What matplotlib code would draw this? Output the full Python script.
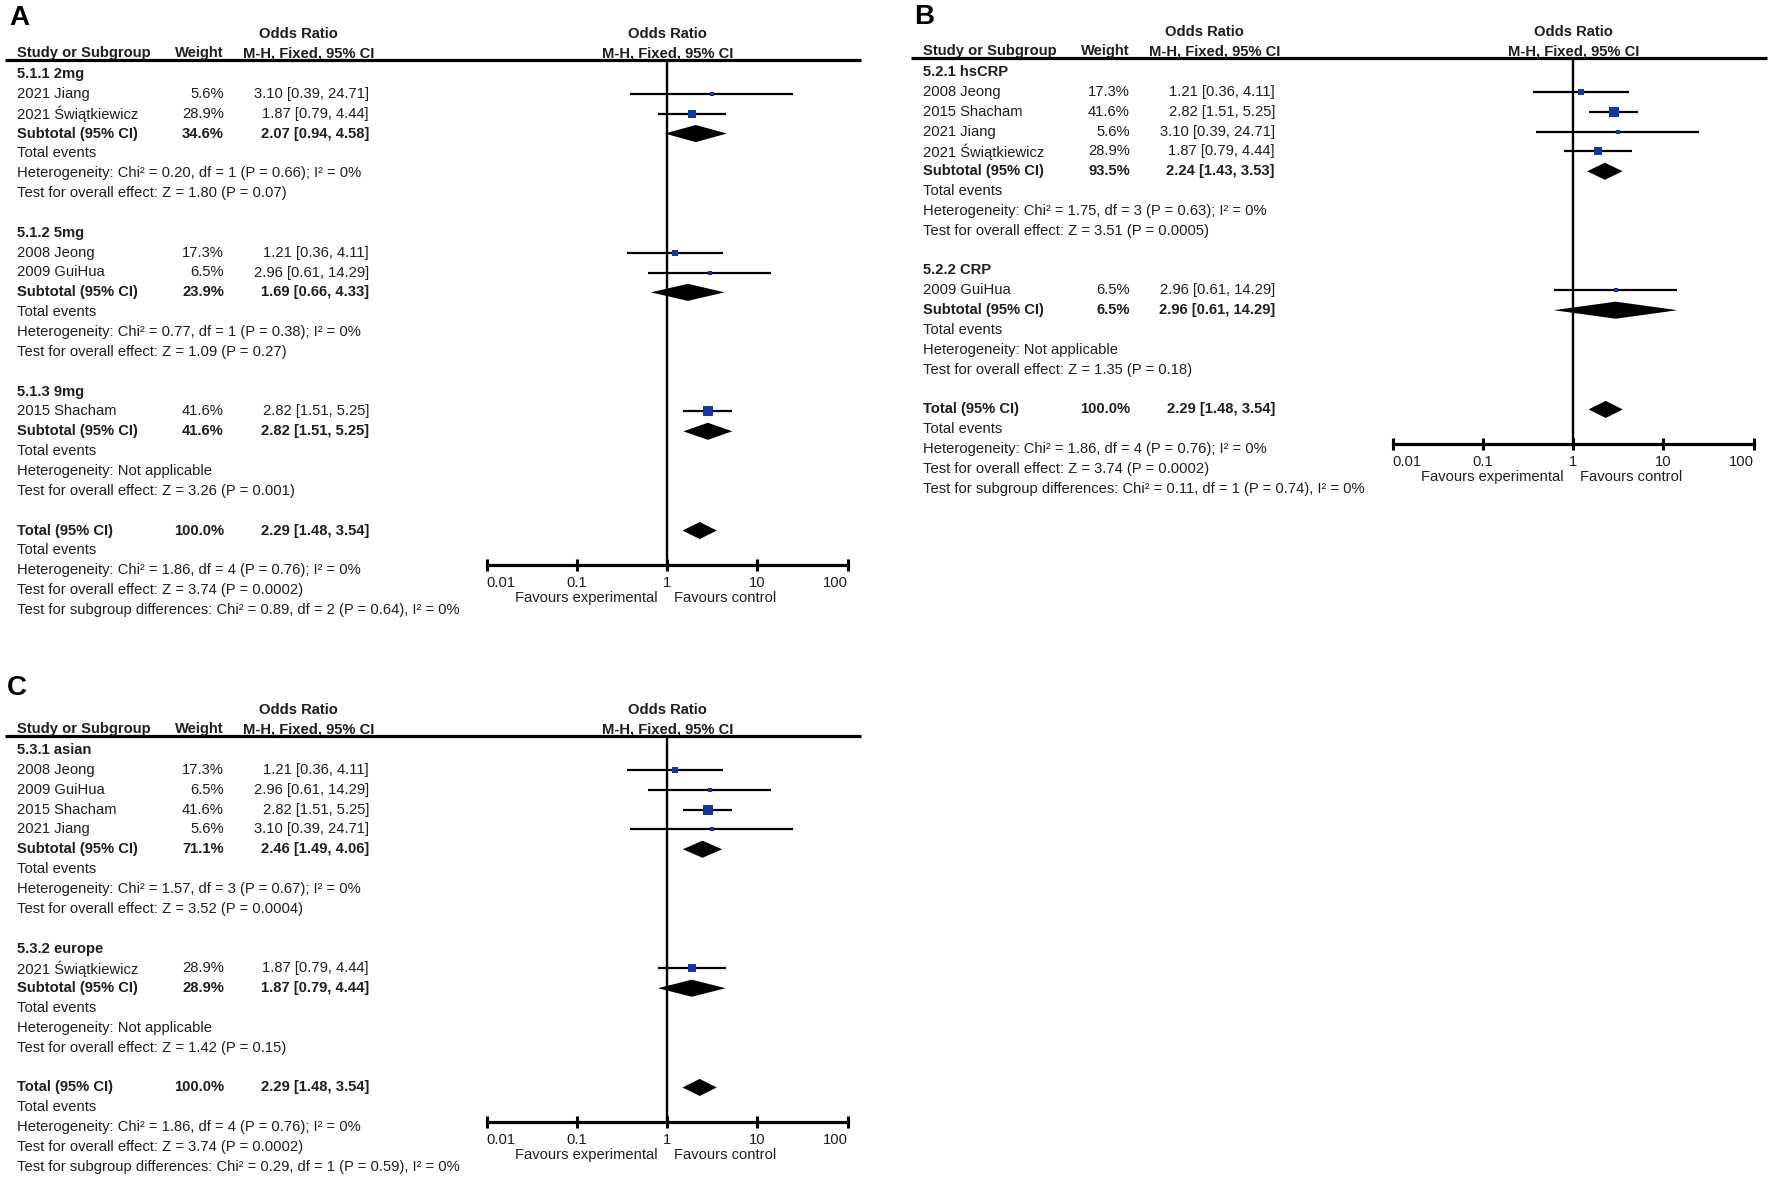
import numpy as np
import matplotlib
matplotlib.use("Agg")
import matplotlib.pyplot as plt
from matplotlib.transforms import Affine2D, blended_transform_factory

plt.rcParams['font.family'] = ['Liberation Sans', 'DejaVu Sans']

# study level data
study_names = ["2008 Jeong", "2009 GuiHua", "2015 Shacham", "2021 Jiang", "2021 Świątkiewicz"]
study_weight = [17.3, 6.5, 41.6, 5.6, 28.9]
study_or = [1.21, 2.96, 2.82, 3.10, 1.87]
study_lo = [0.36, 0.61, 1.51, 0.39, 0.79]
study_hi = [4.11, 14.29, 5.25, 24.71, 4.44]

# panel A: dose
groups_A = ["5.1.1 2mg", "5.1.2 5mg", "5.1.3 9mg"]
members_A = [["2021 Jiang", "2021 Świątkiewicz"], ["2008 Jeong", "2009 GuiHua"], ["2015 Shacham"]]
sub_weight_A = [34.6, 23.9, 41.6]
sub_or_A = [2.07, 1.69, 2.82]
sub_lo_A = [0.94, 0.66, 1.51]
sub_hi_A = [4.58, 4.33, 5.25]
het_A = ["Chi² = 0.20, df = 1 (P = 0.66); I² = 0%", "Chi² = 0.77, df = 1 (P = 0.38); I² = 0%", "Not applicable"]
z_A = ["Z = 1.80 (P = 0.07)", "Z = 1.09 (P = 0.27)", "Z = 3.26 (P = 0.001)"]
diff_A = "Chi² = 0.89, df = 2 (P = 0.64), I² = 0%"

# panel B: CRP type
groups_B = ["5.2.1 hsCRP", "5.2.2 CRP"]
members_B = [["2008 Jeong", "2015 Shacham", "2021 Jiang", "2021 Świątkiewicz"], ["2009 GuiHua"]]
sub_weight_B = [93.5, 6.5]
sub_or_B = [2.24, 2.96]
sub_lo_B = [1.43, 0.61]
sub_hi_B = [3.53, 14.29]
het_B = ["Chi² = 1.75, df = 3 (P = 0.63); I² = 0%", "Not applicable"]
z_B = ["Z = 3.51 (P = 0.0005)", "Z = 1.35 (P = 0.18)"]
diff_B = "Chi² = 0.11, df = 1 (P = 0.74), I² = 0%"

# panel C: region
groups_C = ["5.3.1 asian", "5.3.2 europe"]
members_C = [["2008 Jeong", "2009 GuiHua", "2015 Shacham", "2021 Jiang"], ["2021 Świątkiewicz"]]
sub_weight_C = [71.1, 28.9]
sub_or_C = [2.46, 1.87]
sub_lo_C = [1.49, 0.79]
sub_hi_C = [4.06, 4.44]
het_C = ["Chi² = 1.57, df = 3 (P = 0.67); I² = 0%", "Not applicable"]
z_C = ["Z = 3.52 (P = 0.0004)", "Z = 1.42 (P = 0.15)"]
diff_C = "Chi² = 0.29, df = 1 (P = 0.59), I² = 0%"

# overall
total_weight = 100.0
total_or, total_lo, total_hi = 2.29, 1.48, 3.54
total_het = "Chi² = 1.86, df = 4 (P = 0.76); I² = 0%"
total_z = "Z = 3.74 (P = 0.0002)"

ticks = [0.01, 0.1, 1, 10, 100]
tick_labels = ["0.01", "0.1", "1", "10", "100"]

W, H = 1772, 1177
fig = plt.figure(figsize=(W / 100, H / 100), dpi=100)
TXT = '#1e1e1e'
BLUE = '#1237a0'
FS = 10.6
STEP = 19.85  # pixels per row


def fmt(o, l, h):
    return "%.2f [%.2f, %.2f]" % (o, l, h)


def panel(letter, lx, ly, xoff, y0, groups, members, sw, so, sl, sh, het, zz, diff):
    total_row = sum(len(m) + 6 for m in members)
    top_px = y0 - 14
    bot_px = y0 + (total_row + 1.75) * STEP
    ax = fig.add_axes([(486.7 + xoff) / W, 1 - bot_px / H, 361 / W, (bot_px - top_px) / H])
    ax.set_xscale('log')
    ax.set_xlim(0.01, 100)
    ax.set_ylim(total_row + 1.75, -14 / STEP)
    for s in ['top', 'left', 'right']:
        ax.spines[s].set_visible(False)
    ax.spines['bottom'].set_linewidth(2.3)
    ax.set_xticks(ticks)
    ax.set_xticklabels(tick_labels, fontsize=FS, color=TXT)
    labs = ax.get_xticklabels()
    labs[0].set_ha('left')
    labs[-1].set_ha('right')
    ax.minorticks_off()
    ax.tick_params(axis='x', direction='inout', length=9, width=2.2, pad=3)
    ax.set_yticks([])
    ax.patch.set_alpha(0)
    ax.axvline(1, color='black', lw=1.7)

    # x in figure pixels, y in rows
    tr = blended_transform_factory(Affine2D().scale(1 / W, 1) + fig.transFigure, ax.transData)

    def row(p):
        return (p - y0) / STEP

    def t(x, y, s, bold=False, ha='left', va='center'):
        ax.text(x + xoff, y, s, transform=tr, fontsize=FS, color=TXT, ha=ha, va=va,
                fontweight='bold' if bold else 'normal', clip_on=False)

    fig.text((lx + xoff) / W, 1 - ly / H, letter, fontsize=20, fontweight='bold',
             ha='left', va='center', color='black')

    # header
    t(298, row(y0 - 40), "Odds Ratio", bold=True, ha='center')
    t(17, row(y0 - 16.5), "Study or Subgroup", bold=True, va='baseline')
    t(224, row(y0 - 16.5), "Weight", bold=True, ha='right', va='baseline')
    t(309, row(y0 - 16.5), "M-H, Fixed, 95% CI", bold=True, ha='center', va='baseline')
    ax.text(1, row(y0 - 40), "Odds Ratio", fontsize=FS, fontweight='bold', color=TXT,
            ha='center', va='center', clip_on=False)
    ax.text(1.02, row(y0 - 16.5), "M-H, Fixed, 95% CI", fontsize=FS, fontweight='bold',
            color=TXT, ha='center', va='baseline', clip_on=False)
    ax.plot([5 + xoff, 861 + xoff], [-14 / STEP, -14 / STEP], transform=tr, color='black',
            lw=2.3, clip_on=False, solid_capstyle='butt')

    k = 0
    dh = 0.43
    for g, mem, w, o, l, h, he, z in zip(groups, members, sw, so, sl, sh, het, zz):
        t(17, k, g, bold=True)
        k += 1
        for name in mem:
            i = study_names.index(name)
            t(17, k, name)
            t(224, k, "%.1f%%" % study_weight[i], ha='right')
            t(369, k, fmt(study_or[i], study_lo[i], study_hi[i]), ha='right')
            ax.hlines(k, study_lo[i], study_hi[i], color='black', lw=1.6)
            side = max(1.55 * np.sqrt(study_weight[i]), 3.2) * 0.72
            ax.scatter([study_or[i]], [k], marker='s', s=side ** 2, color=BLUE, lw=0, zorder=3)
            k += 1
        t(17, k, "Subtotal (95% CI)", bold=True)
        t(224, k, "%.1f%%" % w, bold=True, ha='right')
        t(369, k, fmt(o, l, h), bold=True, ha='right')
        ax.fill([l, o, h, o], [k, k - dh, k, k + dh], color='black', lw=0, zorder=3)
        k += 1
        t(17, k, "Total events")
        k += 1
        t(17, k, "Heterogeneity: " + he)
        k += 1
        t(17, k, "Test for overall effect: " + z)
        k += 2
    t(17, k, "Total (95% CI)", bold=True)
    t(224, k, "%.1f%%" % total_weight, bold=True, ha='right')
    t(369, k, fmt(total_or, total_lo, total_hi), bold=True, ha='right')
    ax.fill([total_lo, total_or, total_hi, total_or], [k, k - dh, k, k + dh], color='black', lw=0, zorder=3)
    t(17, k + 1, "Total events")
    t(17, k + 2, "Heterogeneity: " + total_het)
    t(17, k + 3, "Test for overall effect: " + total_z)
    t(17, k + 4, "Test for subgroup differences: " + diff)

    yf = k + 1.75 + 33 / STEP
    ax.annotate("Favours experimental", xy=(1, yf), xytext=(-10, 0), textcoords='offset pixels',
                ha='right', va='center', fontsize=FS, color=TXT, annotation_clip=False)
    ax.annotate("Favours control", xy=(1, yf), xytext=(7, 0), textcoords='offset pixels',
                ha='left', va='center', fontsize=FS, color=TXT, annotation_clip=False)


panel("A", 9, 18, 0, 74, groups_A, members_A, sub_weight_A, sub_or_A, sub_lo_A, sub_hi_A, het_A, z_A, diff_A)
panel("B", 8, 17, 906, 72, groups_B, members_B, sub_weight_B, sub_or_B, sub_lo_B, sub_hi_B, het_B, z_B, diff_B)
panel("C", 7, 688, 0, 750, groups_C, members_C, sub_weight_C, sub_or_C, sub_lo_C, sub_hi_C, het_C, z_C, diff_C)

fig.savefig("out.png", dpi=100, facecolor='white')
